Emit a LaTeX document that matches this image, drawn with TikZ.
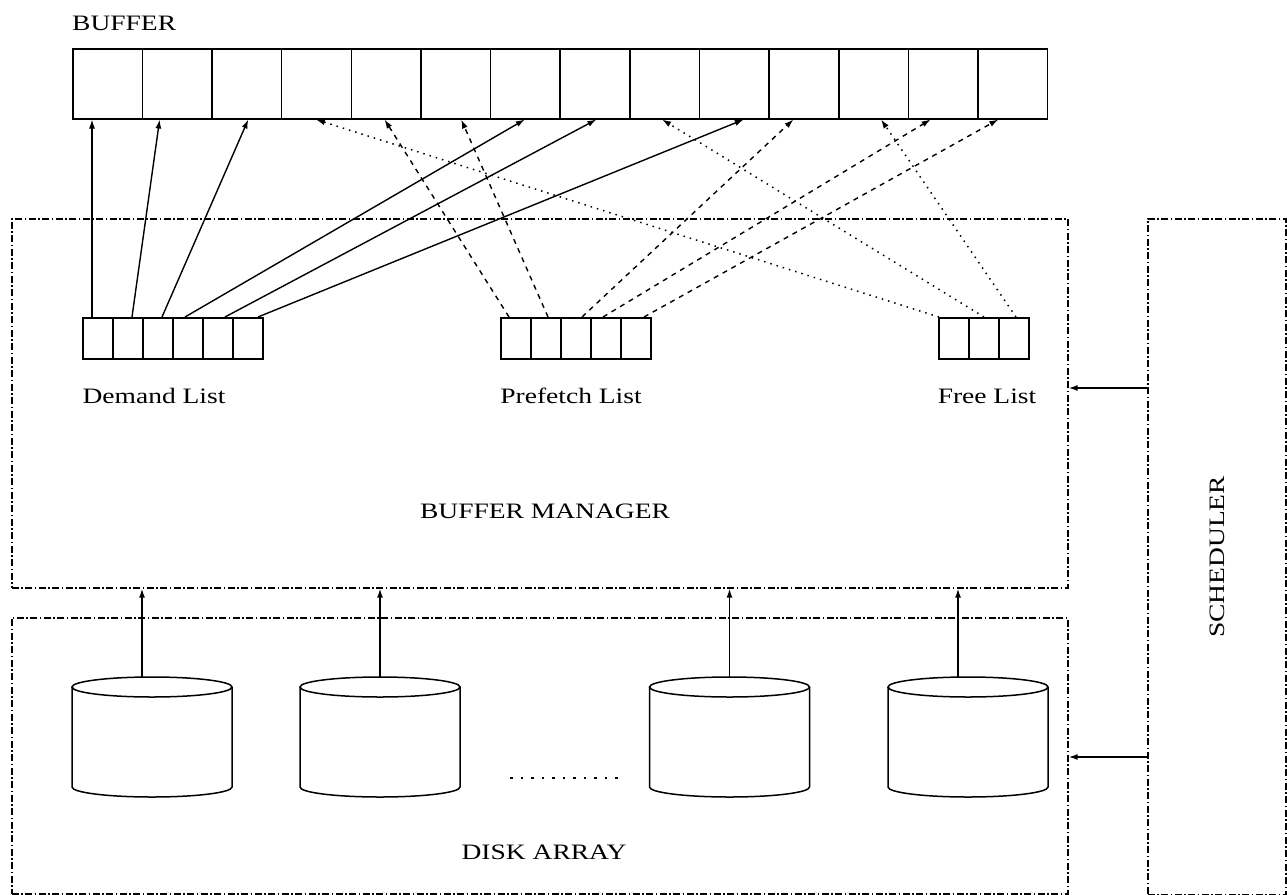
\documentclass[tikz,border=0pt]{standalone}
\usepackage{fontspec}
\setmainfont{Liberation Serif}
\usetikzlibrary{calc,arrows.meta}
\newcommand{\lbl}[1]{\scalebox{1.25}[1]{#1}}
\begin{document}
\begin{tikzpicture}[x=1pt,y=-1pt,
  every node/.style={font=\fontsize{22}{25}\selectfont},
  cell/.style={draw,line width=1.5pt,inner sep=0pt,anchor=north west},
  bufcell/.style={cell,minimum width=69.64pt,minimum height=70pt},
  listcell/.style={cell,minimum width=30pt,minimum height=41pt},
  dashdotbox/.style={draw,line width=1.6pt,inner sep=0pt,anchor=north west,
     dash pattern=on 7pt off 2.5pt on 1.5pt off 2.5pt},
  tip/.style={-{Latex[length=9pt,width=6pt]}},
  demand/.style={tip,line width=1.4pt},
  prefetch/.style={tip,line width=1.4pt,dash pattern=on 5pt off 5pt},
  freel/.style={tip,line width=1.5pt,dash pattern=on 1.5pt off 5pt},
  plain/.style={tip,line width=1.5pt}]
\useasboundingbox (0,0) rectangle (1287,894);

% boxes
\node[dashdotbox,minimum width=1056pt,minimum height=369pt] (bm) at (11,218) {};
\node[dashdotbox,minimum width=1056pt,minimum height=276pt] (da) at (11,617) {};
\node[dashdotbox,minimum width=138pt,minimum height=676pt] (sched) at (1147,218) {};

% buffer
\node[anchor=base west,inner sep=0pt] (buftxt) at (72,30) {\lbl{BUFFER}};
\foreach \i in {1,...,14}
  \node[bufcell] (b\i) at ({72+(\i-1)*69.64},48) {};

% lists
\foreach \i in {1,...,6}
  \node[listcell] (d\i) at ({82+(\i-1)*30},317) {};
\foreach \i in {1,...,5}
  \node[listcell] (p\i) at ({500+(\i-1)*30},317) {};
\foreach \i in {1,...,3}
  \node[listcell] (f\i) at ({938+(\i-1)*30},317) {};

\node[anchor=base,inner sep=0pt] (dl) at (154,403) {\lbl{Demand List}};
\node[anchor=base,inner sep=0pt] (pl) at (571,403) {\lbl{Prefetch List}};
\node[anchor=base,inner sep=0pt] (fl) at (987,403) {\lbl{Free List}};
\node[anchor=base,inner sep=0pt] (bmtxt) at (545,518) {\lbl{BUFFER MANAGER}};
\node[anchor=base,inner sep=0pt] (datxt) at (544,859) {\lbl{DISK ARRAY}};
\node[anchor=base,inner sep=0pt,rotate=90] (stxt) at (1224,557) {\lbl{SCHEDULER}};

% demand arrows
\draw[demand] ($(d1.north west)+(10,0)$) -- ($(b1.south west)+(20,0)$);
\draw[demand] ($(d2.north west)+(20,0)$) -- ($(b2.south west)+(18,0)$);
\draw[demand] ($(d3.north west)+(20,0)$) -- ($(b3.south west)+(37,0)$);
\draw[demand] ($(d4.north west)+(13,0)$) -- ($(b7.south west)+(35,0)$);
\draw[demand] ($(d5.north west)+(23,0)$) -- ($(b8.south west)+(37,0)$);
\draw[demand] ($(d6.north west)+(26,0)$) -- ($(b10.south west)+(45,0)$);

% prefetch arrows
\draw[prefetch] ($(p1.north west)+(9,0)$) -- ($(b5.south west)+(34,0)$);
\draw[prefetch] ($(p2.north west)+(18,0)$) -- ($(b6.south west)+(41,0)$);
\draw[prefetch] ($(p3.north west)+(22,0)$) -- ($(b11.south west)+(25,0)$);
\draw[prefetch] ($(p4.north west)+(13,0)$) -- ($(b13.south west)+(23,0)$);
\draw[prefetch] ($(p5.north west)+(24,0)$) -- ($(b14.south west)+(21,0)$);

% free arrows
\draw[freel] ($(f1.north west)+(1,0)$) -- ($(b4.south west)+(35,0)$);
\draw[freel] ($(f2.north west)+(16,0)$) -- ($(b9.south west)+(33,0)$);
\draw[freel] ($(f3.north west)+(18,0)$) -- ($(b12.south west)+(43,0)$);

% disks
\foreach \cx/\ax/\n in {152/142/1, 380/380/2, 729.5/729.5/3, 968/958/4}{
  \draw[line width=1.5pt] (\cx-80,687) -- (\cx-80,787)
     arc[start angle=180,end angle=360,x radius=80pt,y radius=10pt] -- (\cx+80,687);
  \draw[line width=1.5pt] (\cx,687) ellipse [x radius=80pt,y radius=10pt];
  \coordinate (c\n) at (\ax,677);
  \draw[plain] (c\n) -- (c\n |- bm.south);
}
\draw[line width=2.2pt,dash pattern=on 2.5pt off 8pt] (510,778) -- (620,778);

% scheduler arrows
\coordinate (s1) at (1147,388);
\coordinate (s2) at (1147,757);
\draw[plain] (s1) -- (s1 -| bm.east);
\draw[plain] (s2) -- (s2 -| da.east);
\end{tikzpicture}
\end{document}
